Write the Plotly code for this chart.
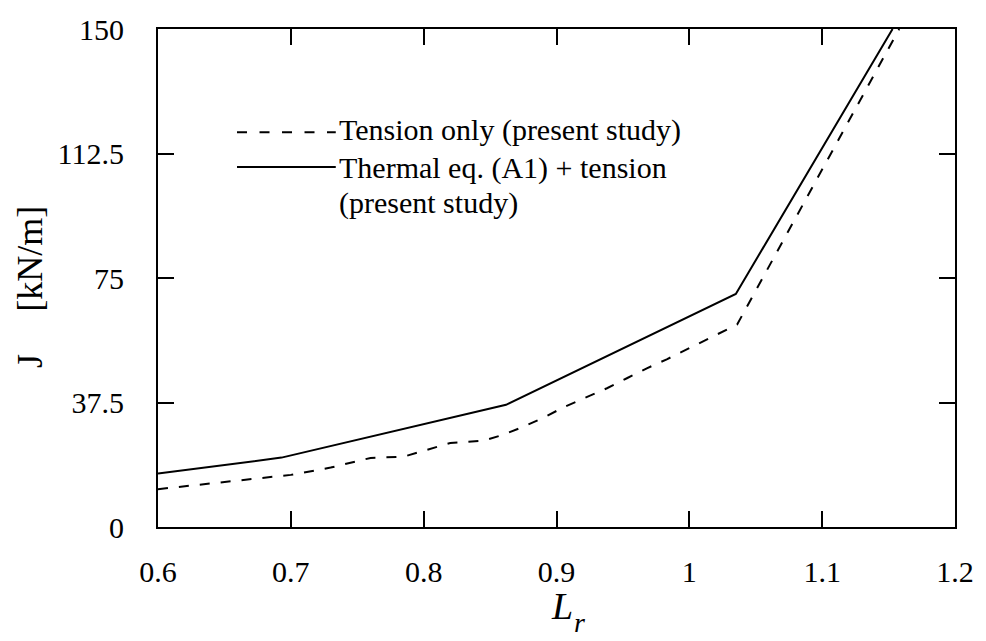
import plotly.graph_objects as go

# Normalised load ratio L_r and J-integral [kN/m]
lr_tension = [0.600, 0.700, 0.730, 0.760, 0.785, 0.800, 0.820, 0.845, 0.860, 0.875,
              0.890, 0.906, 0.921, 0.938, 0.953, 0.968, 0.983, 1.000, 1.016, 1.036, 1.158]
j_tension = [11.4, 15.7, 17.9, 20.8, 21.2, 23.0, 25.3, 26.0, 27.8, 30.2,
             32.9, 36.2, 38.8, 41.8, 44.8, 47.8, 50.5, 53.8, 57.1, 61.0, 150.0]

lr_thermal = [0.600, 0.693, 0.862, 1.035, 1.153]
j_thermal = [16.1, 20.9, 36.8, 70.2, 150.0]

x_ticks = [0.6, 0.7, 0.8, 0.9, 1.0, 1.1, 1.2]
x_tick_text = ["0.6", "0.7", "0.8", "0.9", "1", "1.1", "1.2"]
y_ticks = [0, 37.5, 75, 112.5, 150]
y_tick_text = ["0", "37.5", "75", "112.5", "150"]

legend_lines = ["Tension only (present study)",
                "Thermal eq. (A1) + tension",
                "(present study)"]

FONT = "Liberation Serif, Times New Roman, serif"
W, H = 986, 641
ML, MR, MT, MB = 158, 21, 25, 114
PW, PH = W - ML - MR, H - MT - MB


def px_x(p):
    return (p - ML) / PW


def px_y(p):
    return (H - MB - p) / PH


def text_note(text, x, y, size=30, xanchor="left", yanchor="middle", angle=0):
    return dict(text=text, xref="paper", yref="paper", x=px_x(x), y=px_y(y),
                xanchor=xanchor, yanchor=yanchor, textangle=angle,
                showarrow=False, align="left",
                font=dict(family=FONT, size=size, color="black"))


fig = go.Figure()
fig.add_trace(go.Scatter(x=lr_tension, y=j_tension, mode="lines",
                         line=dict(color="black", width=2, dash="10px,11px"),
                         showlegend=False))
fig.add_trace(go.Scatter(x=lr_thermal, y=j_thermal, mode="lines",
                         line=dict(color="black", width=2),
                         showlegend=False))

axis_common = dict(showline=True, linecolor="black", linewidth=2, mirror="ticks",
                   ticks="inside", ticklen=16, tickwidth=2, tickcolor="black",
                   showgrid=False, zeroline=False,
                   tickfont=dict(family=FONT, size=30, color="black"))

fig.update_xaxes(range=[0.6, 1.2], tickvals=x_ticks, ticktext=x_tick_text,
                 ticklabelstandoff=17, **axis_common)
fig.update_yaxes(range=[0, 150], tickvals=y_ticks, ticktext=y_tick_text,
                 ticklabelstandoff=26, **axis_common)

# Legend drawn by hand: sample lines plus labels
shapes = [
    dict(type="line", xref="paper", yref="paper",
         x0=px_x(238), x1=px_x(338), y0=px_y(129), y1=px_y(129),
         line=dict(color="black", width=2, dash="10px,12.5px")),
    dict(type="line", xref="paper", yref="paper",
         x0=px_x(238), x1=px_x(338), y0=px_y(164), y1=px_y(164),
         line=dict(color="black", width=2)),
]

annotations = [
    text_note(legend_lines[0], 339, 127),
    text_note(legend_lines[1], 339, 165),
    text_note(legend_lines[2], 339, 200),
    # x-axis title L_r
    text_note("<i>L</i>", 567, 607, size=38, xanchor="center"),
    text_note("<i>r</i>", 585, 641, size=28, xanchor="center", yanchor="bottom"),
    # y-axis title
    text_note("J", 29, 360, size=36, xanchor="center", angle=-90),
    text_note("[kN/m]", 29, 257, size=36, xanchor="center", angle=-90),
]

fig.update_layout(width=W, height=H,
                  margin=dict(l=ML, r=MR, t=MT, b=MB, pad=0),
                  paper_bgcolor="white", plot_bgcolor="white",
                  shapes=shapes, annotations=annotations, showlegend=False)

fig.write_html("out.html")
